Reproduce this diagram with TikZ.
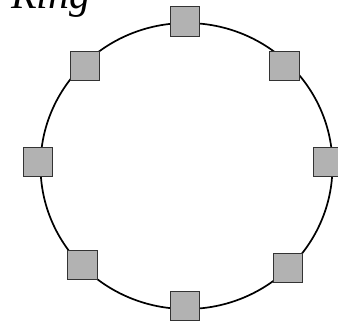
\documentclass[tikz,border=0pt]{standalone}
\usepackage{fontspec}
\setmainfont{Liberation Serif}
\begin{document}
\begin{tikzpicture}[x=1pt,y=-1pt,
  station/.style={draw=black!80,fill=black!30,line width=1.2pt,minimum size=29.5pt,inner sep=0pt,outer sep=0pt,shape=rectangle},
  ringline/.style={draw=black,line width=1.7pt}]
\useasboundingbox (0,0) rectangle (338,321);
\clip (0,0) rectangle (338,321);
\draw[ringline] (186.5,166) ellipse [x radius=146, y radius=143];
\node[station] (n) at (185,21.5) {};
\node[station] (ne) at (284.5,66) {};
\node[station] (e) at (328,162) {};
\node[station] (se) at (288,268) {};
\node[station] (s) at (185,306) {};
\node[station] (sw) at (82.5,265) {};
\node[station] (w) at (38,162) {};
\node[station] (nw) at (85,66) {};
\node[anchor=base west,inner sep=0pt,font=\fontsize{42}{42}\selectfont\itshape] (title) at (11,8.5) {Ring};
\end{tikzpicture}
\end{document}
